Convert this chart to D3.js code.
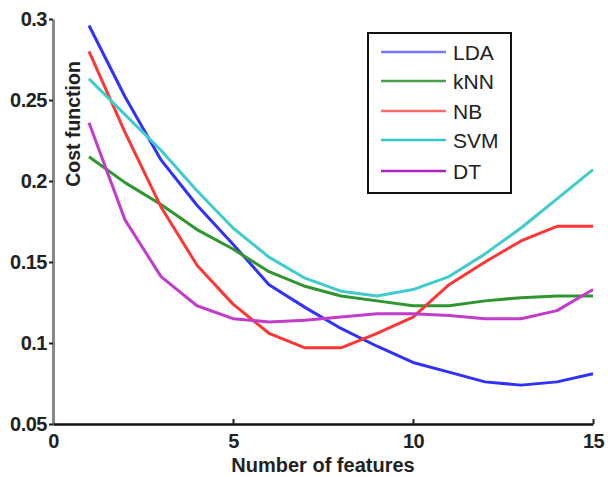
<!DOCTYPE html>
<html>
<head>
<meta charset="utf-8">
<script src="https://cdn.jsdelivr.net/npm/d3@7"></script>
<style>
  html, body { margin: 0; padding: 0; background: #fff; }
  svg { display: block; font-family: "Liberation Sans", Arial, sans-serif; }
</style>
</head>
<body>
<svg id="chart" width="608" height="477"></svg>
<script>
(function () {
// ---- data ----
const features = [1, 2, 3, 4, 5, 6, 7, 8, 9, 10, 11, 12, 13, 14, 15];
const seriesNames = ["LDA", "kNN", "NB", "SVM", "DT"];
const ldaValues = [0.296, 0.252, 0.213, 0.185, 0.161, 0.136, 0.122, 0.109, 0.098, 0.088, 0.082, 0.076, 0.074, 0.076, 0.081];
const knnValues = [0.215, 0.199, 0.1855, 0.170, 0.158, 0.144, 0.135, 0.129, 0.126, 0.123, 0.123, 0.126, 0.128, 0.129, 0.129];
const nbValues  = [0.280, 0.230, 0.184, 0.148, 0.124, 0.106, 0.097, 0.097, 0.106, 0.116, 0.136, 0.150, 0.163, 0.172, 0.172];
const svmValues = [0.263, 0.241, 0.219, 0.194, 0.171, 0.153, 0.140, 0.132, 0.129, 0.133, 0.141, 0.155, 0.171, 0.189, 0.207];
const dtValues  = [0.236, 0.176, 0.141, 0.123, 0.115, 0.113, 0.114, 0.116, 0.118, 0.118, 0.117, 0.115, 0.115, 0.120, 0.133];
const xTicks = [0, 5, 10, 15];
const yTicks = [0.05, 0.1, 0.15, 0.2, 0.25, 0.3];
const xTitle = "Number of features";
const yTitle = "Cost function";

const seriesValues = [ldaValues, knnValues, nbValues, svmValues, dtValues];
const colors = ["#3030ff", "#2f962f", "#ff3636", "#40cccc", "#c23ccc"];
const legendColors = ["#7878ff", "#4aa04a", "#ff6a6a", "#30c8c8", "#b020c0"];

// ---- layout ----
const svg = d3.select("#chart");
const mLeft = 53, mRight = 593, mTop = 19, mBottom = 424;

const x = d3.scaleLinear().domain([0, 15]).range([mLeft, mRight]);
const y = d3.scaleLinear().domain([0.05, 0.3]).range([mBottom, mTop]);

// lines
const line = d3.line().x((d, i) => x(features[i])).y(d => y(d));
seriesValues.forEach((vals, k) => {
  svg.append("path")
    .datum(vals)
    .attr("fill", "none")
    .attr("stroke", colors[k])
    .attr("stroke-width", 3)
    .attr("stroke-linejoin", "round")
    .attr("d", line);
});

// y axis (gray)
const yAxis = d3.axisLeft(y).tickValues(yTicks).tickFormat(d3.format("~g")).tickSize(4).tickSizeOuter(0).tickPadding(2);
const gy = svg.append("g").attr("transform", `translate(${mLeft},0)`).call(yAxis);
gy.select(".domain").attr("stroke", "#888").attr("stroke-width", 3);
gy.selectAll(".tick line").attr("stroke", "#222").attr("stroke-width", 2);
gy.selectAll(".tick text")
  .attr("font-size", 20).attr("font-weight", "bold").attr("fill", "#222")
  .attr("letter-spacing", "-0.5px")
  .attr("font-family", "Liberation Sans, Arial, sans-serif");

// x axis (black, ticks inward)
const xAxis = d3.axisBottom(x).tickValues(xTicks).tickFormat(d3.format("d")).tickSize(-5).tickSizeOuter(0).tickPadding(10);
const gx = svg.append("g").attr("transform", `translate(0,${mBottom})`).call(xAxis);
gx.select(".domain").attr("stroke", "#111").attr("stroke-width", 2.5);
gx.selectAll(".tick line").attr("stroke", "#222").attr("stroke-width", 2);
gx.selectAll(".tick")
  .filter(d => d === 0).select("line").remove();
gx.selectAll(".tick text")
  .attr("font-size", 20).attr("font-weight", "bold").attr("fill", "#222")
  .attr("letter-spacing", "-0.5px")
  .attr("font-family", "Liberation Sans, Arial, sans-serif");

// axis titles
svg.append("text")
  .attr("x", (mLeft + mRight) / 2).attr("y", 472)
  .attr("text-anchor", "middle")
  .attr("font-size", 20).attr("font-weight", "bold").attr("fill", "#222")
  .text(xTitle);

svg.append("text")
  .attr("transform", `translate(80,124) rotate(-90)`)
  .attr("text-anchor", "middle")
  .attr("font-size", 19.5).attr("font-weight", "bold").attr("fill", "#222")
  .text(yTitle);

// legend
const lg = svg.append("g");
lg.append("rect")
  .attr("x", 368).attr("y", 33).attr("width", 143).attr("height", 160)
  .attr("fill", "#fff").attr("stroke", "#111").attr("stroke-width", 2);
const rowY = [52, 81, 111, 140, 171];
seriesNames.forEach((name, k) => {
  lg.append("line")
    .attr("x1", 381).attr("x2", 446)
    .attr("y1", rowY[k]).attr("y2", rowY[k])
    .attr("stroke", legendColors[k]).attr("stroke-width", 2.5);
  lg.append("text")
    .attr("x", 453).attr("y", rowY[k])
    .attr("dy", "0.36em")
    .attr("font-size", 21).attr("fill", "#222")
    .text(name);
});
})();
</script>
</body>
</html>
